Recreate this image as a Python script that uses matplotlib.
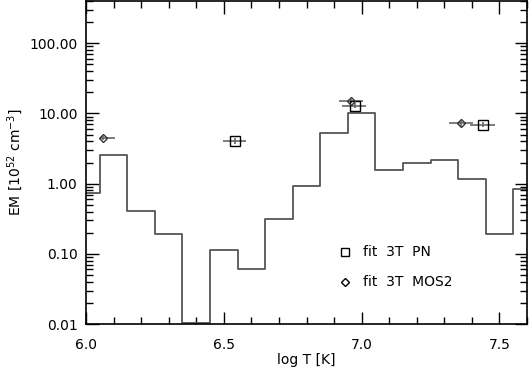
import matplotlib
matplotlib.use("Agg")
import matplotlib.pyplot as plt
from matplotlib.ticker import FixedLocator, MultipleLocator, FuncFormatter, LogLocator, NullFormatter

# Histogram (DEM) values
log_t = [6.0, 6.1, 6.2, 6.3, 6.4, 6.5, 6.6, 6.7, 6.8, 6.9, 7.0, 7.1, 7.2, 7.3, 7.4, 7.5, 7.6]
em = [0.74, 2.6, 0.41, 0.189, 0.0102, 0.114, 0.061, 0.31, 0.92, 5.2, 10.1, 1.55, 2.0, 2.2, 1.18, 0.19, 0.83]

# fit 3T PN
pn_t = [6.541, 6.975, 7.442]
pn_em = [4.05, 12.9, 6.93]
pn_terr_lo = [0.044, 0.046, 0.047]
pn_terr_hi = [0.041, 0.042, 0.042]
pn_emerr = [0.35, 1.1, 0.6]

# fit 3T MOS2
mos_t = [6.063, 6.963, 7.361]
mos_em = [4.47, 15.0, 7.23]
mos_terr_lo = [0.013, 0.046, 0.045]
mos_terr_hi = [0.042, 0.042, 0.042]
mos_emerr = [0.3, 1.0, 0.5]

ytick_vals = [0.01, 0.1, 1.0, 10.0, 100.0]
xtick_vals = [6.0, 6.5, 7.0, 7.5]

plt.rcParams['font.family'] = ['DejaVu Sans']
fig = plt.figure(figsize=(5.29, 3.70), dpi=100)
ax = fig.add_axes([86/529, 46/370, 441/529, 323/370])

ax.step(log_t, em, where='mid', color='#555555', lw=1.3)

ax.errorbar(pn_t, pn_em, xerr=[pn_terr_lo, pn_terr_hi], yerr=pn_emerr, fmt='s',
            mfc='none', mec='black', ms=6.5, mew=1.0, ecolor='#666666', elinewidth=1.2, capsize=0)
ax.errorbar(mos_t, mos_em, xerr=[mos_terr_lo, mos_terr_hi], yerr=mos_emerr, fmt='D',
            mfc='none', mec='#333333', ms=4.5, mew=1.0, ecolor='#666666', elinewidth=1.2, capsize=0)

ax.set_yscale('log')
ax.set_xlim(6.0, 7.6)
ax.set_ylim(0.01, 400)

ax.xaxis.set_major_locator(FixedLocator(xtick_vals))
ax.xaxis.set_minor_locator(MultipleLocator(0.1))
ax.xaxis.set_major_formatter(FuncFormatter(lambda v, p: f"{v:.1f}"))
ax.yaxis.set_major_locator(FixedLocator(ytick_vals))
ax.yaxis.set_minor_locator(LogLocator(base=10, subs=range(2, 10)))
ax.yaxis.set_minor_formatter(NullFormatter())
ax.yaxis.set_major_formatter(FuncFormatter(lambda v, p: f"{v:.2f}"))

ax.tick_params(which='major', direction='in', length=9, width=1, top=True, right=True,
               labelsize=10, pad=6)
ax.tick_params(axis='x', which='major', pad=10)
ax.tick_params(which='minor', direction='in', length=5, width=1, top=True, right=True)
for s in ax.spines.values():
    s.set_linewidth(1.2)

ax.set_xlabel('log T [K]', fontsize=10, va='center')
ax.xaxis.set_label_coords(0.5, (324 - 360) / 323)
ax.set_ylabel('EM [10$^{52}$ cm$^{-3}$]', fontsize=10, va='center')
ax.yaxis.set_label_coords((15 - 86) / 441, 0.5)

# legend drawn manually
ax.plot([0.587], [0.223], 's', transform=ax.transAxes, mfc='none', mec='black', ms=6, mew=1.0)
ax.plot([0.587], [0.131], 'D', transform=ax.transAxes, mfc='none', mec='black', ms=4, mew=1.0)
ax.text(0.628, 0.223, 'fit  3T  PN', transform=ax.transAxes, va='center', ha='left', fontsize=10)
ax.text(0.628, 0.131, 'fit  3T  MOS2', transform=ax.transAxes, va='center', ha='left', fontsize=10)

fig.savefig('out.png', dpi=100)
